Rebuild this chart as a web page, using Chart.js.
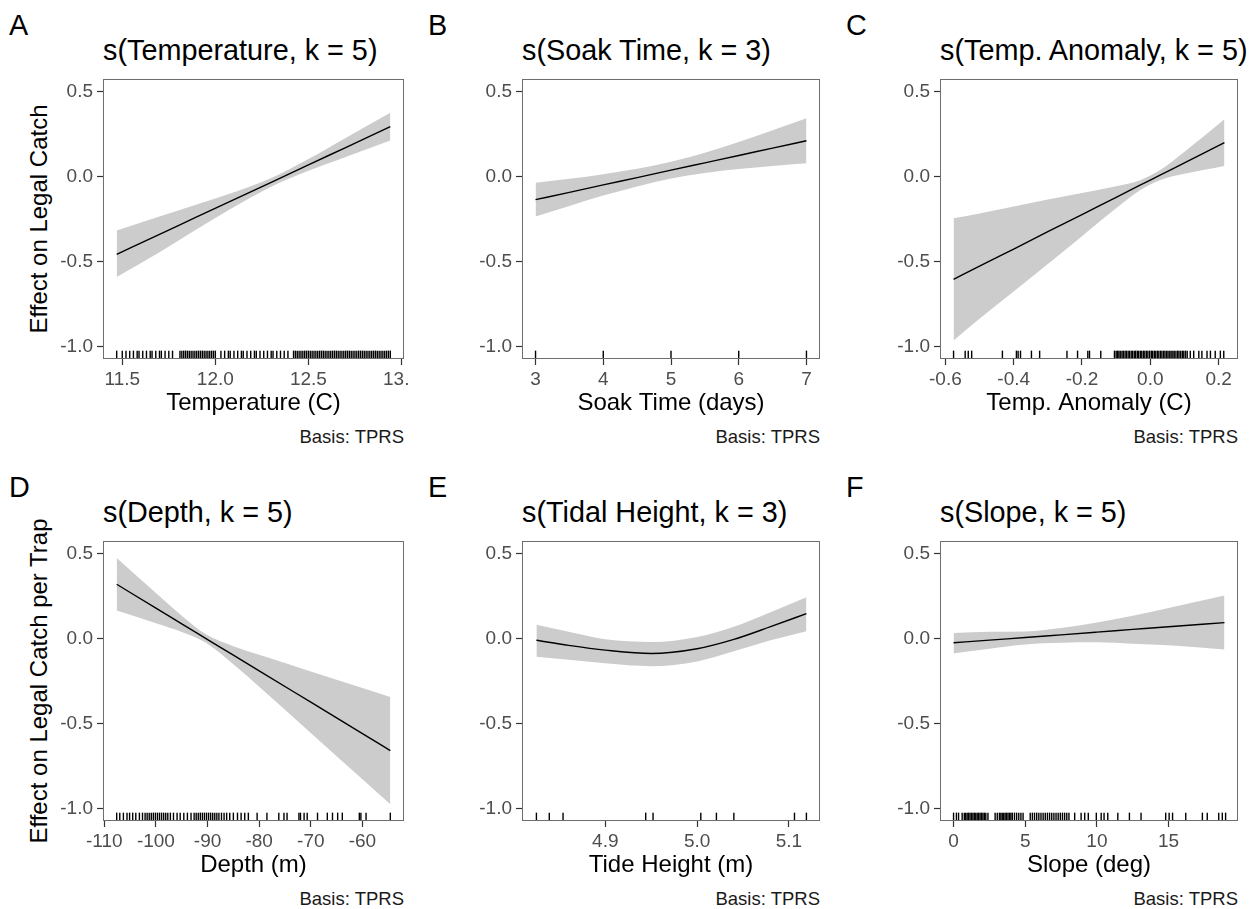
<!DOCTYPE html>
<html lang="en">
<head>
  <meta charset="UTF-8" />
  <title>Smooth effects on legal catch</title>
  <script src="https://cdn.jsdelivr.net/npm/chart.js"></script>
  <style>
    body {
      margin: 0;
      background: #fff;
      font-family: 'Liberation Sans', Arial, sans-serif;
      color: #000;
      overflow: hidden;
    }
    #page {
      position: relative;
      width: 1250px;
      height: 909px;
      overflow: hidden;
    }
    .panel { position: absolute; }
    .letter, .title {
      position: absolute;
      font-size: 28.8px;
      line-height: 28.8px;
      white-space: nowrap;
    }
    .caption {
      position: absolute;
      width: 200px;
      font-size: 18.5px;
      line-height: 18.5px;
      text-align: right;
      color: #1a1a1a;
    }
    .ytitle {
      position: absolute;
      width: 400px;
      font-size: 24px;
      line-height: 24px;
      text-align: center;
      white-space: nowrap;
      transform: rotate(-90deg);
    }
  </style>
</head>
<body>
<div id="page"></div>

<script>
  // shared y axis
  const yTicks = [-1.0, -0.5, 0.0, 0.5];

  // A: temperature
  const tempX     = [11.47, 11.7, 11.9, 12.1, 12.3, 12.5, 12.7, 12.94];
  const tempFit   = [-0.458, -0.341, -0.238, -0.136, -0.034, 0.069, 0.171, 0.294];
  const tempUpper = [-0.318, -0.236, -0.165, -0.092, -0.008, 0.104, 0.228, 0.376];
  const tempLower = [-0.592, -0.446, -0.311, -0.180, -0.060, 0.034, 0.115, 0.212];
  const tempTicks = [11.5, 12.0, 12.5, 13.0];
  const tempRug = [11.47, 11.50, 11.52, 11.54, 11.56, 11.58, 11.59, 11.61, 11.63, 11.65, 11.66, 11.68,
    11.70, 11.71, 11.73, 11.75, 11.77, 11.81, 11.82, 11.83, 11.84, 11.85, 11.86, 11.87, 11.88, 11.89,
    11.90, 11.91, 11.92, 11.93, 11.94, 11.95, 11.96, 11.97, 11.98, 11.99, 12.00, 12.03, 12.05, 12.07,
    12.08, 12.10, 12.12, 12.14, 12.15, 12.17, 12.19, 12.21, 12.22, 12.24, 12.26, 12.28, 12.30, 12.31,
    12.33, 12.35, 12.37, 12.39, 12.42, 12.43, 12.44, 12.45, 12.46, 12.47, 12.48, 12.49, 12.50, 12.51,
    12.52, 12.53, 12.54, 12.55, 12.56, 12.57, 12.58, 12.59, 12.60, 12.61, 12.62, 12.63, 12.64, 12.65,
    12.66, 12.67, 12.68, 12.69, 12.70, 12.71, 12.72, 12.73, 12.74, 12.75, 12.76, 12.77, 12.78, 12.79,
    12.80, 12.81, 12.82, 12.83, 12.84, 12.85, 12.86, 12.87, 12.88, 12.89, 12.90, 12.91, 12.92, 12.93, 12.94];

  // B: soak time
  const soakX     = [3, 3.5, 4, 4.5, 5, 5.5, 6, 6.5, 7];
  const soakFit   = [-0.136, -0.093, -0.049, -0.006, 0.038, 0.081, 0.124, 0.168, 0.211];
  const soakUpper = [-0.036, -0.013, 0.014, 0.046, 0.088, 0.141, 0.204, 0.273, 0.344];
  const soakLower = [-0.236, -0.173, -0.112, -0.058, -0.012, 0.021, 0.044, 0.063, 0.078];
  const soakTicks = [3, 4, 5, 6, 7];
  const soakRug = [3, 4, 5, 6, 7];

  // C: temperature anomaly
  const anomX     = [-0.576, -0.5, -0.4, -0.3, -0.2, -0.1, -0.03, 0.03, 0.1, 0.217];
  const anomFit   = [-0.606, -0.528, -0.427, -0.325, -0.224, -0.122, -0.051, 0.010, 0.081, 0.200];
  const anomUpper = [-0.246, -0.218, -0.177, -0.135, -0.097, -0.057, -0.021, 0.040, 0.146, 0.338];
  const anomLower = [-0.966, -0.838, -0.677, -0.515, -0.351, -0.187, -0.081, -0.020, 0.016, 0.062];
  const anomTicks = [-0.6, -0.4, -0.2, 0.0, 0.2];
  const anomRug = [-0.576, -0.542, -0.533, -0.523, -0.433, -0.392, -0.387, -0.380, -0.348, -0.324,
    -0.244, -0.213, -0.183, -0.178, -0.145, -0.105, -0.100, -0.096, -0.092, -0.088, -0.083, -0.079,
    -0.074, -0.070, -0.065, -0.061, -0.056, -0.052, -0.047, -0.043, -0.038, -0.034, -0.029, -0.025,
    -0.020, -0.016, -0.011, -0.007, -0.002, 0.003, 0.007, 0.012, 0.016, 0.021, 0.025, 0.030, 0.034,
    0.039, 0.043, 0.048, 0.052, 0.057, 0.061, 0.066, 0.070, 0.075, 0.080, 0.084, 0.089, 0.094, 0.098,
    0.103, 0.108, 0.117, 0.127, 0.142, 0.151, 0.166, 0.176, 0.190, 0.205, 0.215];

  // D: depth
  const depthX     = [-107.6, -100, -95, -90.3, -85, -80, -70, -60, -54.6];
  const depthFit   = [0.320, 0.179, 0.087, 0.0, -0.098, -0.190, -0.375, -0.560, -0.660];
  const depthUpper = [0.475, 0.268, 0.135, 0.025, -0.045, -0.096, -0.194, -0.291, -0.344];
  const depthLower = [0.165, 0.090, 0.039, -0.025, -0.151, -0.284, -0.556, -0.829, -0.976];
  const depthTicks = [-110, -100, -90, -80, -70, -60];
  const depthRug = [-107.6, -107.0, -106.3, -105.6, -105.1, -104.5, -103.9, -103.2, -102.6, -102.1,
    -101.7, -101.3, -100.9, -100.5, -100.1, -99.7, -99.3, -98.9, -98.5, -98.1, -97.7, -97.2, -96.6,
    -95.9, -95.3, -94.6, -93.9, -93.2, -92.6, -92.2, -91.8, -91.4, -91.0, -90.6, -90.2, -89.8, -89.4,
    -89.0, -88.6, -88.2, -87.8, -87.3, -86.8, -86.3, -85.7, -85.0, -84.2, -83.5, -82.8, -82.1, -80.4,
    -78.5, -76.2, -75.2, -74.6, -72.3, -72.0, -71.3, -70.7, -68.7, -66.8, -65.8, -64.8, -63.9, -60.6,
    -60.3, -59.3, -54.6];

  // E: tide height
  const tideX     = [4.825, 4.86, 4.9, 4.95, 5.0, 5.04, 5.08, 5.119];
  const tideFit   = [-0.010, -0.040, -0.068, -0.088, -0.060, -0.005, 0.070, 0.147];
  const tideUpper = [0.082, 0.040, -0.004, -0.020, 0.010, 0.070, 0.155, 0.244];
  const tideLower = [-0.107, -0.125, -0.146, -0.163, -0.135, -0.075, -0.010, 0.043];
  const tideTicks = [4.9, 5.0, 5.1];
  const tideRug = [4.825, 4.839, 4.854, 4.944, 4.952, 5.004, 5.021, 5.040, 5.106, 5.119];

  // F: slope
  const slopeX     = [0, 2.5, 5, 7.5, 10, 12.5, 15, 18.9];
  const slopeFit   = [-0.025, -0.009, 0.006, 0.022, 0.038, 0.054, 0.070, 0.094];
  const slopeUpper = [0.033, 0.040, 0.042, 0.062, 0.095, 0.135, 0.180, 0.254];
  const slopeLower = [-0.088, -0.060, -0.035, -0.025, -0.022, -0.030, -0.040, -0.064];
  const slopeTicks = [0, 5, 10, 15];
  const slopeRug = [0.0, 0.2, 0.35, 0.6, 0.75, 0.85, 0.95, 1.05, 1.15, 1.25, 1.35, 1.45, 1.55, 1.65,
    1.75, 1.85, 1.95, 2.05, 2.15, 2.25, 2.4, 2.9, 3.05, 3.2, 3.3, 3.4, 3.5, 3.6, 3.7, 3.8, 3.9, 4.0,
    4.1, 4.25, 4.4, 4.55, 4.7, 4.85, 5.35, 5.5, 5.65, 5.8, 5.95, 6.1, 6.25, 6.4, 6.55, 6.7, 6.85, 7.0,
    7.15, 7.3, 7.45, 7.6, 7.75, 7.9, 8.05, 8.45, 8.9, 9.15, 9.4, 9.96, 10.3, 10.5, 10.76, 11.46, 12.27,
    13.08, 14.8, 15.04, 15.28, 16.2, 17.36, 17.7, 18.5, 18.75, 18.98];

  const FONT = "'Liberation Sans', Arial, sans-serif";
  const Y_MIN = -1.075, Y_MAX = 0.575;
  const RUG_Y = -1.0504;
  const AXIS_W = 70, AXIS_H = 65, PAD_TOP = 15, PAD_RIGHT = 6;

  const panels = [
    { letter: 'A', title: 's(Temperature, k = 5)', xTitle: 'Temperature (C)', yTitle: 'Effect on Legal Catch',
      box: [103, 79, 404, 359], xMin: 11.3965, xMax: 13.0135, ticks: tempTicks, dec: 1,
      x: tempX, fit: tempFit, upper: tempUpper, lower: tempLower, rug: tempRug },
    { letter: 'B', title: 's(Soak Time, k = 3)', xTitle: 'Soak Time (days)',
      box: [522, 79, 820, 359], xMin: 2.8, xMax: 7.2, ticks: soakTicks, dec: 0,
      x: soakX, fit: soakFit, upper: soakUpper, lower: soakLower, rug: soakRug },
    { letter: 'C', title: 's(Temp. Anomaly, k = 5)', xTitle: 'Temp. Anomaly (C)',
      box: [940, 79, 1238, 359], xMin: -0.6157, xMax: 0.2567, ticks: anomTicks, dec: 1,
      x: anomX, fit: anomFit, upper: anomUpper, lower: anomLower, rug: anomRug },
    { letter: 'D', title: 's(Depth, k = 5)', xTitle: 'Depth (m)', yTitle: 'Effect on Legal Catch per Trap',
      box: [103, 541, 404, 821], xMin: -110.25, xMax: -51.95, ticks: depthTicks, dec: 0,
      x: depthX, fit: depthFit, upper: depthUpper, lower: depthLower, rug: depthRug },
    { letter: 'E', title: 's(Tidal Height, k = 3)', xTitle: 'Tide Height (m)',
      box: [522, 541, 820, 821], xMin: 4.8093, xMax: 5.1338, ticks: tideTicks, dec: 1,
      x: tideX, fit: tideFit, upper: tideUpper, lower: tideLower, rug: tideRug },
    { letter: 'F', title: 's(Slope, k = 5)', xTitle: 'Slope (deg)',
      box: [940, 541, 1238, 821], xMin: -0.945, xMax: 19.845, ticks: slopeTicks, dec: 0,
      x: slopeX, fit: slopeFit, upper: slopeUpper, lower: slopeLower, rug: slopeRug }
  ];

  // grey frame round the plotting area
  const framePlugin = {
    id: 'frame',
    afterDatasetsDraw(chart) {
      const { ctx, chartArea: a } = chart;
      ctx.save();
      ctx.strokeStyle = '#6e6e6e';
      ctx.lineWidth = 1;
      ctx.strokeRect(a.left + 0.5, a.top + 0.5, a.right - a.left - 1, a.bottom - a.top - 1);
      ctx.restore();
    }
  };

  const page = document.getElementById('page');

  function addText(cls, text, left, top) {
    const d = document.createElement('div');
    d.className = cls;
    d.textContent = text;
    d.style.left = left + 'px';
    d.style.top = top + 'px';
    page.appendChild(d);
    return d;
  }

  const pts = (xs, ys) => xs.map((x, i) => ({ x: x, y: ys[i] }));

  panels.forEach(p => {
    const [l, t, r, b] = p.box;

    addText('letter', p.letter, l - 94, t - 68.4);
    addText('title', p.title, l, t - 43.4);
    addText('caption', 'Basis: TPRS', r - 200, b + 69);
    if (p.yTitle) addText('ytitle', p.yTitle, 39 - 200, (t + b) / 2 - 12);

    const wrap = document.createElement('div');
    wrap.className = 'panel';
    wrap.style.left = (l - AXIS_W) + 'px';
    wrap.style.top = (t - PAD_TOP) + 'px';
    const canvas = document.createElement('canvas');
    canvas.width = (r - l) + AXIS_W + PAD_RIGHT;
    canvas.height = (b - t) + PAD_TOP + AXIS_H;
    wrap.appendChild(canvas);
    page.appendChild(wrap);

    // lower "order" is painted later, i.e. on top
    new Chart(canvas.getContext('2d'), {
      type: 'line',
      data: {
        datasets: [
          { data: pts(p.x, p.upper), order: 3, borderWidth: 0, pointRadius: 0, fill: '+1',
            backgroundColor: '#cccccc', cubicInterpolationMode: 'monotone' },
          { data: pts(p.x, p.lower), order: 4, borderWidth: 0, pointRadius: 0, fill: false,
            cubicInterpolationMode: 'monotone' },
          { data: pts(p.x, p.fit), order: 1, borderColor: '#000', borderWidth: 1.4, pointRadius: 0,
            fill: false, cubicInterpolationMode: 'monotone' },
          { data: p.rug.map(v => ({ x: v, y: RUG_Y })), order: 2, showLine: false, fill: false,
            pointStyle: 'line', pointRotation: 90, pointRadius: 4.2,
            pointBorderColor: '#000', pointBorderWidth: 1.4 }
        ]
      },
      options: {
        responsive: false,
        animation: false,
        events: [],
        layout: { padding: { top: PAD_TOP, right: PAD_RIGHT, left: 0, bottom: 0 } },
        plugins: {
          legend: { display: false },
          tooltip: { enabled: false },
          filler: { drawTime: 'beforeDatasetsDraw' }
        },
        scales: {
          x: {
            type: 'linear',
            min: p.xMin,
            max: p.xMax,
            afterBuildTicks: s => { s.ticks = p.ticks.map(v => ({ value: v })); },
            afterFit: s => { s.height = AXIS_H; s.paddingLeft = 0; s.paddingRight = 0; },
            border: { display: false },
            grid: { drawOnChartArea: false, drawTicks: true, tickLength: 6, tickColor: '#333', tickWidth: 1.2 },
            ticks: {
              color: '#4d4d4d', font: { family: FONT, size: 19 }, padding: 3,
              autoSkip: false, maxRotation: 0, minRotation: 0,
              callback: v => v.toFixed(p.dec)
            },
            title: {
              display: true, text: p.xTitle, color: '#000',
              font: { family: FONT, size: 24 }, padding: { top: 0, bottom: 6 }
            }
          },
          y: {
            type: 'linear',
            min: Y_MIN,
            max: Y_MAX,
            afterBuildTicks: s => { s.ticks = yTicks.map(v => ({ value: v })); },
            afterFit: s => { s.width = AXIS_W; s.paddingTop = 0; s.paddingBottom = 0; },
            border: { display: false },
            grid: { drawOnChartArea: false, drawTicks: true, tickLength: 6, tickColor: '#333', tickWidth: 1.2 },
            ticks: {
              color: '#4d4d4d', font: { family: FONT, size: 19 }, padding: 4,
              callback: v => v.toFixed(1)
            }
          }
        }
      },
      plugins: [framePlugin]
    });
  });
</script>
</body>
</html>
